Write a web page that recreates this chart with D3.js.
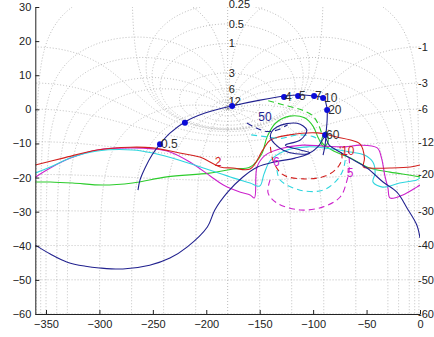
<!DOCTYPE html>
<html>
<head>
<meta charset="utf-8">
<script src="https://cdn.jsdelivr.net/npm/d3@7"></script>
<style>
  body { margin: 0; background: #fff; }
  svg text { font-family: "Liberation Sans", Arial, sans-serif; }
</style>
</head>
<body>
<svg id="chart" width="434" height="337"></svg>
<script>
// axis ticks
const phaseTicks = [-350, -300, -250, -200, -150, -100, -50, 0];
const gainTicks = [30, 20, 10, 0, -10, -20, -30, -40, -50, -60];

// nichols grid (closed loop gain in dB, closed loop phase in deg)
const closedLoopGains = [0.25, 0.5, 1, 3, 6, 12, 0, -1, -3, -6, -12, -20, -30, -40, -50, -60];
const topLabelGains = [0.25, 0.5, 1, 3, 6, 12];
const sideLabelGains = [-1, -3, -6, -12, -20, -30, -40, -50, -60];
const closedLoopPhases = [-1, -5, -10, -20, -30, -60, -90, -120, -150];

// series, [phase deg, gain dB]
const blueWide = [[-360,-39.8],[-346,-42.4],[-330,-44.8],[-313,-46],[-300,-46.5],[-278,-46.8],[-253,-45.7],
  [-234,-43.6],[-218,-40.4],[-199,-34.5],[-192,-29.5],[-180,-24.3],[-166,-19.9],[-152,-16.9],[-136,-15.4],
  [-117,-14.3],[-103,-12.8],[-112,-11.9],[-126,-10.5],[-112,-9],[-106,-6.1],[-115,-4.1],[-134,-5.2],[-140,-8],
  [-128,-12],[-105,-13],[-95,-10.8],[-89,-8.2],[-85,-10.5],[-75,-12.5],[-65.5,-14.3],[-49.6,-17.2],
  [-34.6,-21.3],[-21.6,-24.3],[-12.2,-28.9],[-3,-33.9],[0,-37.7]];
const blueFreq = [[-263.9,-23.7],[-262,-20.7],[-257.3,-17.2],[-250.8,-13.4],[-243.3,-10.2],[-234,-7],[-220,-3.7],
  [-201.2,-1.1],[-175.8,1],[-149.7,2.7],[-126.3,3.9],[-113.2,4.2],[-99.1,3.9],[-89.8,3.3],[-87.9,1.6],
  [-86.9,0.1],[-86.9,-3.1],[-87.9,-6.9],[-88.8,-10.5],[-90.7,-13.4]];
const blueMarkers = [[-243.3,-10.2,'0.5'],[-220,-3.9,''],[-175.8,1,''],[-127.2,3.6,'4'],[-114.1,3.9,'5'],
  [-99.1,3.9,'7'],[-90.7,3.3,'10'],[-86.9,-0.2,'20'],[-88.8,-7.5,'60']];
const redSolid = [[-360,-16.3],[-334,-14.3],[-302,-11.9],[-271,-11.1],[-250,-11.3],[-225,-12.8],[-206,-14],
  [-187,-16.9],[-175,-17.2],[-159,-17.5],[-147,-11.9],[-140,-9],[-122,-7.5],[-96,-6.9],[-78,-8.1],[-65,-9],
  [-56,-10.2],[-52,-14.3],[-53,-16.9],[-47,-17.2],[-28,-17.2],[-9,-16.9],[0,-16.3]];
const magentaSolid = [[-360,-19.9],[-346,-17.2],[-327,-14.3],[-302,-11.9],[-271,-11.3],[-250,-11.6],[-234,-12.5],
  [-215,-15.5],[-196,-19.6],[-184,-22.2],[-168,-24.3],[-159,-25.1],[-155,-26],[-152.5,-16.9],[-145,-13.5],
  [-130,-11.5],[-110,-10.5],[-90,-10.8],[-70,-11],[-56,-10.5],[-40,-11.3],[-36,-14.3],[-33,-19.3],[-30,-23.1],
  [-28,-26],[-16,-25.1],[-3,-22.8],[0,-22.2]];
const cyanSolid = [[-360,-18.7],[-346,-16.9],[-325,-14],[-302,-12.2],[-269,-11.9],[-250,-12.8],[-225,-14.9],
  [-197,-17.8],[-175,-20.1],[-159,-21.6],[-150,-22.5],[-146,-19],[-140,-15],[-125,-12],[-105,-11],[-85,-11.5],
  [-65,-12.5],[-52,-13.4],[-44,-15.5],[-42,-18.7],[-44,-21.3],[-35,-22.8],[-19,-21.6],[-3,-20.7],[0,-20.1]];
const greenSolid = [[-360,-21.3],[-346,-21.3],[-325,-21.6],[-297,-22.2],[-269,-21.6],[-237,-19.8],[-197,-18.7],
  [-175,-17.5],[-159,-16.9],[-148,-13],[-143,-8],[-135,-4],[-122,-2],[-108,-2.5],[-100,-5],[-95,-8.5],[-90,-11],
  [-86,-9.5],[-88,-6.5],[-92,-9.5],[-82,-12],[-65,-14.3],[-47,-17.2],[-28,-18.4],[-9,-19.3],[0,-19.8]];
const redDash = [[-140,-11],[-137,-15.5],[-128,-19.2],[-109,-20.4],[-88,-19.5],[-77,-17],[-73,-14.3],[-75,-11]];
const magentaDash = [[-140.3,-20.7],[-142.2,-24.5],[-133.8,-27.5],[-112.2,-29.5],[-90.7,-28.6],[-74.7,-25.7],
  [-68.2,-20.7],[-66,-16.5],[-67,-12.5]];
const cyanDash = [[-133.8,-17.8],[-131,-20.7],[-112.2,-23.7],[-90.7,-23.7],[-77.6,-20.7],[-72,-17.8],[-70,-14.9]];
const greenDash = [[-142,2.5],[-130,1.5],[-118,0.5],[-108,-0.5],[-100,-2],[-95,-4.5],[-92,-7]];
const cyanDashUpper = [[-158,-7.5],[-145,-8],[-130,-8.5],[-115,-7.5],[-100,-8],[-92,-9.5]];
const blueDash = [[-162,-4],[-153,-5.5],[-143,-6.5],[-133,-6],[-124,-4.5]];

// text on the curves: [phase, gain, text, series]
const curveLabels = [[-189,-15.4,'2','red'],[-67.5,-12.2,'10','red'],[-65.5,-18.7,'5','magenta'],
  [-134.4,-15.5,'6','magenta'],[-145,-2.3,'50','blue']];

const colors = { blue: '#22228f', red: '#d2201e', magenta: '#cc22cc', cyan: '#2fd6de', green: '#2ccc2c' };
const seriesList = [
  { data: greenSolid, color: 'green' }, { data: magentaSolid, color: 'magenta' },
  { data: cyanSolid, color: 'cyan' }, { data: redSolid, color: 'red' },
  { data: greenDash, color: 'green', dash: true }, { data: cyanDashUpper, color: 'cyan', dash: true },
  { data: blueDash, color: 'blue', dash: true }, { data: redDash, color: 'red', dash: true },
  { data: magentaDash, color: 'magenta', dash: true }, { data: cyanDash, color: 'cyan', dash: true },
  { data: blueWide, color: 'blue' }, { data: blueFreq, color: 'blue' }
];

const x = d3.scaleLinear().domain([-360, 0]).range([35.3, 420]);
const y = d3.scaleLinear().domain([-60, 30]).range([314, 7]);

const svg = d3.select('#chart');
svg.append('defs').append('clipPath').attr('id', 'plotclip').append('rect')
  .attr('x', x(-360)).attr('y', y(30))
  .attr('width', x(0) - x(-360)).attr('height', y(-60) - y(30));

const rad = Math.PI / 180;

// closed loop gain contour
function gainContour(db) {
  const pts = [];
  if (db === 0) {
    for (let p = -269.6; p <= -90.4; p += 0.4) {
      pts.push([p, 20 * Math.log10(-1 / (2 * Math.cos(p * rad)))]);
    }
    return pts;
  }
  const m = Math.pow(10, db / 20);
  for (let i = 0; i <= 1440; i++) {
    const th = (-180 + i * 0.25) * rad;
    const tr = m * Math.cos(th), ti = m * Math.sin(th);
    const dr = 1 - tr, di = -ti, d2 = dr * dr + di * di;
    const lr = (tr * dr + ti * di) / d2, li = (ti * dr - tr * di) / d2;
    let ph = Math.atan2(li, lr) / rad;
    if (ph > 0) ph -= 360;
    pts.push([ph, 20 * Math.log10(Math.hypot(lr, li))]);
  }
  if (m < 1) pts.sort((a, b) => a[0] - b[0]);
  return pts;
}

// closed loop phase contour
function phaseContour(psi) {
  const pts = [];
  const c = Math.cos(psi * rad), s = Math.sin(psi * rad);
  for (let i = 0; i <= 3000; i++) {
    const m = Math.pow(10, -4 + i * 8 / 3000);
    const tr = m * c, ti = m * s;
    const dr = 1 - tr, di = -ti, d2 = dr * dr + di * di;
    const lr = (tr * dr + ti * di) / d2, li = (ti * dr - tr * di) / d2;
    let ph = Math.atan2(li, lr) / rad;
    if (ph > 0) ph -= 360;
    pts.push([ph, Math.max(-80, Math.min(60, 20 * Math.log10(Math.hypot(lr, li))))]);
  }
  return pts;
}

const gridLine = d3.line().x(d => x(d[0])).y(d => y(d[1]));
const grid = svg.append('g').attr('clip-path', 'url(#plotclip)')
  .attr('fill', 'none').attr('stroke', '#b4b4b4').attr('stroke-width', 0.9)
  .attr('stroke-dasharray', '1,2');

closedLoopGains.forEach(g => {
  grid.append('path').attr('d', gridLine(gainContour(g)));
});
closedLoopPhases.forEach(p => {
  const pts = phaseContour(p);
  grid.append('path').attr('d', gridLine(pts));
  grid.append('path').attr('d', gridLine(pts.map(d => [-360 - d[0], d[1]])));
});
grid.append('path').attr('d', gridLine([[-180, -60], [-180, 30]]));

// grid labels
svg.append('g').selectAll('text').data(topLabelGains).join('text')
  .attr('x', x(-180) + 1)
  .attr('y', g => { const m = Math.pow(10, g / 20); return y(20 * Math.log10(m / (m - 1))); })
  .attr('dy', '0.35em').attr('font-size', 11).attr('fill', '#222')
  .text(g => g);
svg.append('g').selectAll('text').data(sideLabelGains).join('text')
  .attr('x', x(0) - 2)
  .attr('y', g => { const m = Math.pow(10, g / 20); return y(20 * Math.log10(m / (1 - m))); })
  .attr('dy', '0.35em').attr('font-size', 11).attr('fill', '#222')
  .text(g => g);

// curves
const curve = d3.line().x(d => x(d[0])).y(d => y(d[1])).curve(d3.curveCatmullRom.alpha(0.5));
const curves = svg.append('g').attr('clip-path', 'url(#plotclip)').attr('fill', 'none');
seriesList.forEach(s => {
  curves.append('path').attr('d', curve(s.data))
    .attr('stroke', colors[s.color]).attr('stroke-width', 1.1)
    .attr('stroke-dasharray', s.dash ? '6,4' : null);
});

svg.append('g').selectAll('text').data(curveLabels).join('text')
  .attr('x', d => x(d[0])).attr('y', d => y(d[1]))
  .attr('dy', '0.35em').attr('text-anchor', 'middle').attr('font-size', 12)
  .attr('fill', d => colors[d[3]])
  .text(d => d[2]);

// frequency markers
svg.append('g').selectAll('circle').data(blueMarkers).join('circle')
  .attr('cx', d => x(d[0])).attr('cy', d => y(d[1])).attr('r', 3)
  .attr('fill', '#0b0bd8');
svg.append('g').selectAll('text').data(blueMarkers).join('text')
  .attr('x', d => x(d[0]) + 1).attr('y', d => y(d[1]))
  .attr('dy', '0.35em').attr('font-size', 12).attr('fill', '#333')
  .text(d => d[2]);

// axes, ticks inside
const yAxis = svg.append('g').attr('transform', `translate(${x(-360)},0)`)
  .call(d3.axisLeft(y).tickValues(gainTicks).tickSize(-4).tickSizeOuter(0).tickPadding(4));
const xAxis = svg.append('g').attr('transform', `translate(0,${y(-60)})`)
  .call(d3.axisBottom(x).tickValues(phaseTicks).tickSize(-4).tickSizeOuter(0).tickPadding(6));
[yAxis, xAxis].forEach(a => {
  a.selectAll('text').attr('font-size', 11).attr('fill', '#222')
    .attr('font-family', '"Liberation Sans", Arial, sans-serif');
  a.selectAll('path, line').attr('stroke', '#222');
});
</script>
</body>
</html>
